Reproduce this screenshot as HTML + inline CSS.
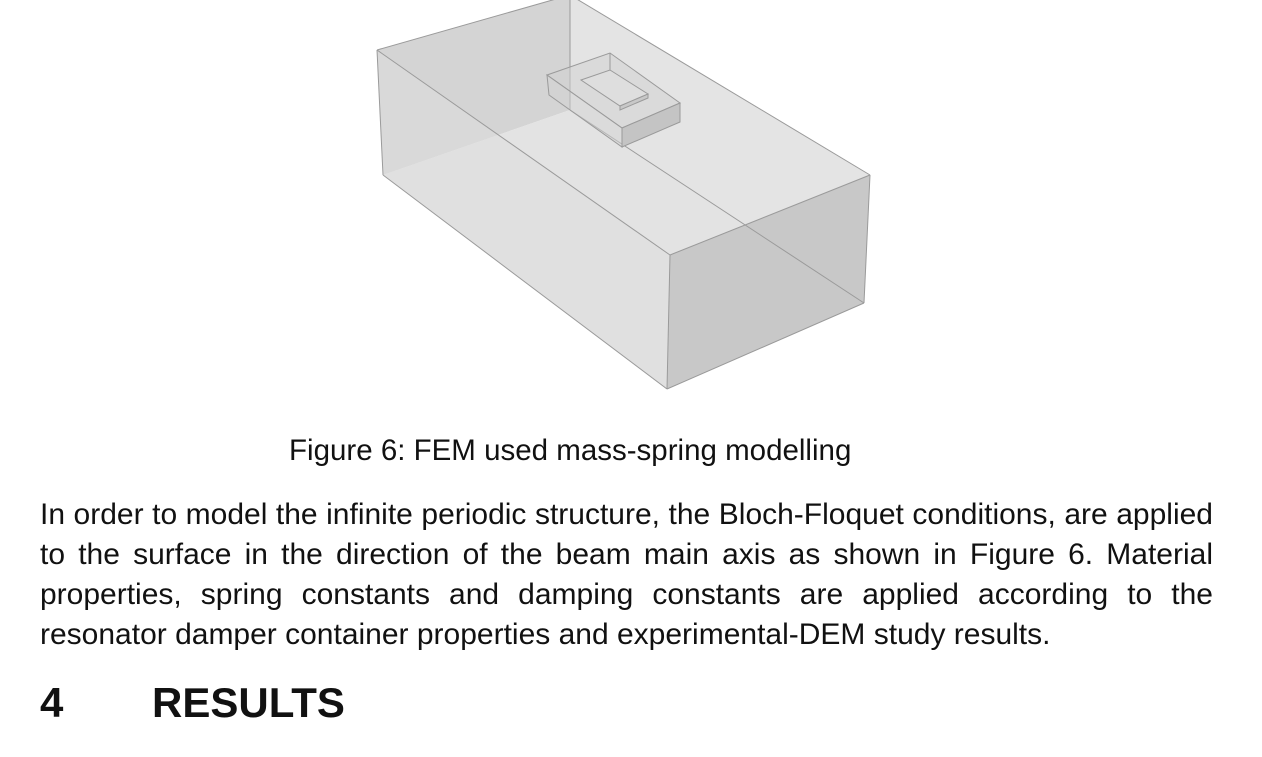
<!DOCTYPE html>
<html><head><meta charset="utf-8"><style>
body{margin:0;width:1262px;height:757px;background:#fff;position:relative;overflow:hidden;font-family:"Liberation Sans",Arial,sans-serif;color:#111}
.t{position:absolute;white-space:nowrap;line-height:1}
.j{position:absolute;left:40px;width:1173px;font-size:30px;line-height:1;text-align:justify;text-align-last:justify;white-space:nowrap}
</style></head><body>
<svg width="1262" height="420" style="position:absolute;left:0;top:0">
<g stroke="#9a9a9a" stroke-width="1" fill="none">
<polygon points="377,50 570,-5 570,110 383,175" fill="#d4d4d4" stroke="none"/>
<polygon points="383,175 570,110 864,303 667,389" fill="#e3e3e3" stroke="none"/>
<polygon points="570,-5 870,175 864,303 570,110" fill="#e4e4e4" stroke="none"/>
<polygon points="377,50 670,255 667,389 383,175" fill="#dedede" fill-opacity="0.5" stroke="none"/>
<polygon points="670,255 870,175 864,303 667,389" fill="#c8c8c8" stroke="none"/>
<line x1="377" y1="50" x2="570" y2="-5"/>
<line x1="570" y1="0" x2="570" y2="110"/>
<line x1="570" y1="110" x2="864" y2="303"/>
<line x1="377" y1="50" x2="383" y2="175"/>
<line x1="383" y1="175" x2="667" y2="389"/>
<line x1="377" y1="50" x2="670" y2="255"/>
<line x1="670" y1="255" x2="667" y2="389"/>
<line x1="670" y1="255" x2="870" y2="175"/>
<line x1="667" y1="389" x2="864" y2="303"/>
<line x1="870" y1="175" x2="864" y2="303"/>
<line x1="870" y1="175" x2="570" y2="-5"/>
<polygon points="547,75 610,53 680,103 622,128" fill="#d0d0d0" fill-opacity="0.5"/>
<polygon points="547,75 622,128 622,147 549,95" fill="#d2d2d2" fill-opacity="0.5"/>
<polygon points="622,128 680,103 680,122 622,147" fill="#c4c4c4"/>
<polygon points="581,80 610,70 648,94 620,106" fill="#dedede"/>
<polygon points="620,106 648,94 648,98 620,110" fill="#c8c8c8"/>
<line x1="610" y1="53" x2="610" y2="70"/>
</g>
</svg>
<div class="t" style="left:289px;top:436px;font-size:29.5px">Figure 6: FEM used mass-spring modelling</div>
<div class="j" style="top:500px">In order to model the infinite periodic structure, the Bloch-Floquet conditions, are applied</div>
<div class="j" style="top:540px">to the surface in the direction of the beam main axis as shown in Figure 6. Material</div>
<div class="j" style="top:580px">properties, spring constants and damping constants are applied according to the</div>
<div class="t" style="left:40px;top:620px;font-size:30px">resonator damper container properties and experimental-DEM study results.</div>
<div class="t" style="left:40px;top:682px;font-size:42px;font-weight:bold">4</div>
<div class="t" style="left:152px;top:682px;font-size:42px;font-weight:bold">RESULTS</div>
</body></html>
